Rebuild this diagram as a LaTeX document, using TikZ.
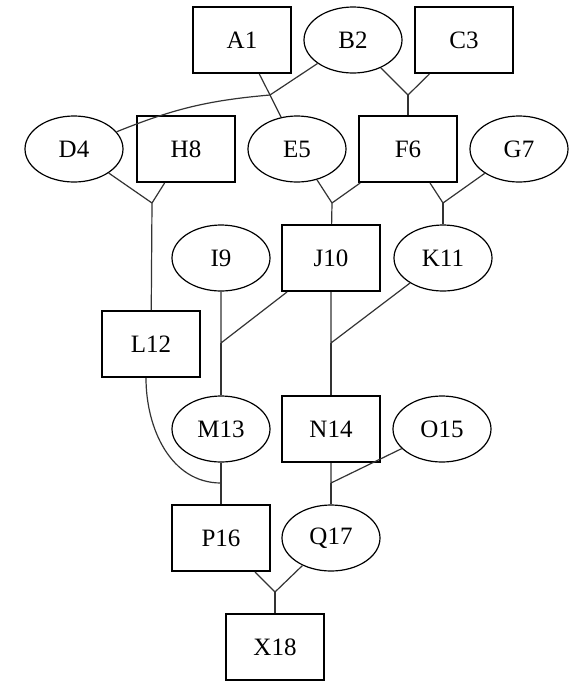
\documentclass[tikz,border=0pt]{standalone}
\usepackage{fontspec}
\setmainfont{Liberation Serif}
\usetikzlibrary{shapes.geometric}

\begin{document}
\begin{tikzpicture}[x=0.5pt, y=-0.5pt, draw=black!80, line width=0.6pt,
    font=\fontsize{12.5}{15}\selectfont]
    \tikzstyle{person}=[draw=black, minimum width=49pt, minimum height=33pt, inner sep=0pt]
    \tikzstyle{male}=[person, rectangle, line width=1pt];
    \tikzstyle{female}=[person, ellipse, line width=0.6pt];

    \useasboundingbox (0,0) rectangle (575,681);

    % Males (boxes)
    \foreach \name / \x / \y in {A1/242/40, C3/464/40, H8/186/149, F6/408/149,
                                 J10/331/258, L12/151/344, N14/331/429,
                                 P16/221/538, X18/275/647}
        \node[male] (\name) at (\x,\y) {\name};

    % Females (ellipses)
    \foreach \name / \x / \y in {B2/353/40, D4/74/149, E5/297/149, G7/519/149,
                                 I9/221/258, K11/443/258, M13/221/429,
                                 O15/442/429, Q17/331/538}
        \node[female] (\name) at (\x,\y) {\name};

    % Marriage points
    \foreach \name / \x / \y in {AB/270/95, BC/408/95, DH/152/203, EF/332/203,
                                 FG/443/203, IJ/221/343, JK/331/343,
                                 LM/221/483, NO/331/483, PQ/275/592}
        \coordinate (j-\name) at (\x,\y);

    % Connect both parents with their marriage point
    \foreach \a / \b / \j in {A1/B2/AB, B2/C3/BC, D4/H8/DH, E5/F6/EF, F6/G7/FG,
                              I9/J10/IJ, J10/K11/JK, M13/M13/LM, N14/O15/NO,
                              P16/Q17/PQ}
        \draw (\a) -- (j-\j) (\b) -- (j-\j);
    \draw (L12.south west) ++(45,0) to[out=-90, in=180] (j-LM);

    % Connect every marriage point with its children
    \foreach \j / \child in {AB/E5, BC/F6, DH/L12, EF/J10, FG/K11, IJ/M13,
                             JK/N14, LM/P16, NO/Q17, PQ/X18}
        \draw (j-\j) -- (\child);
    \draw (j-AB) to[out=185, in=22] (D4);

\end{tikzpicture}
\end{document}
